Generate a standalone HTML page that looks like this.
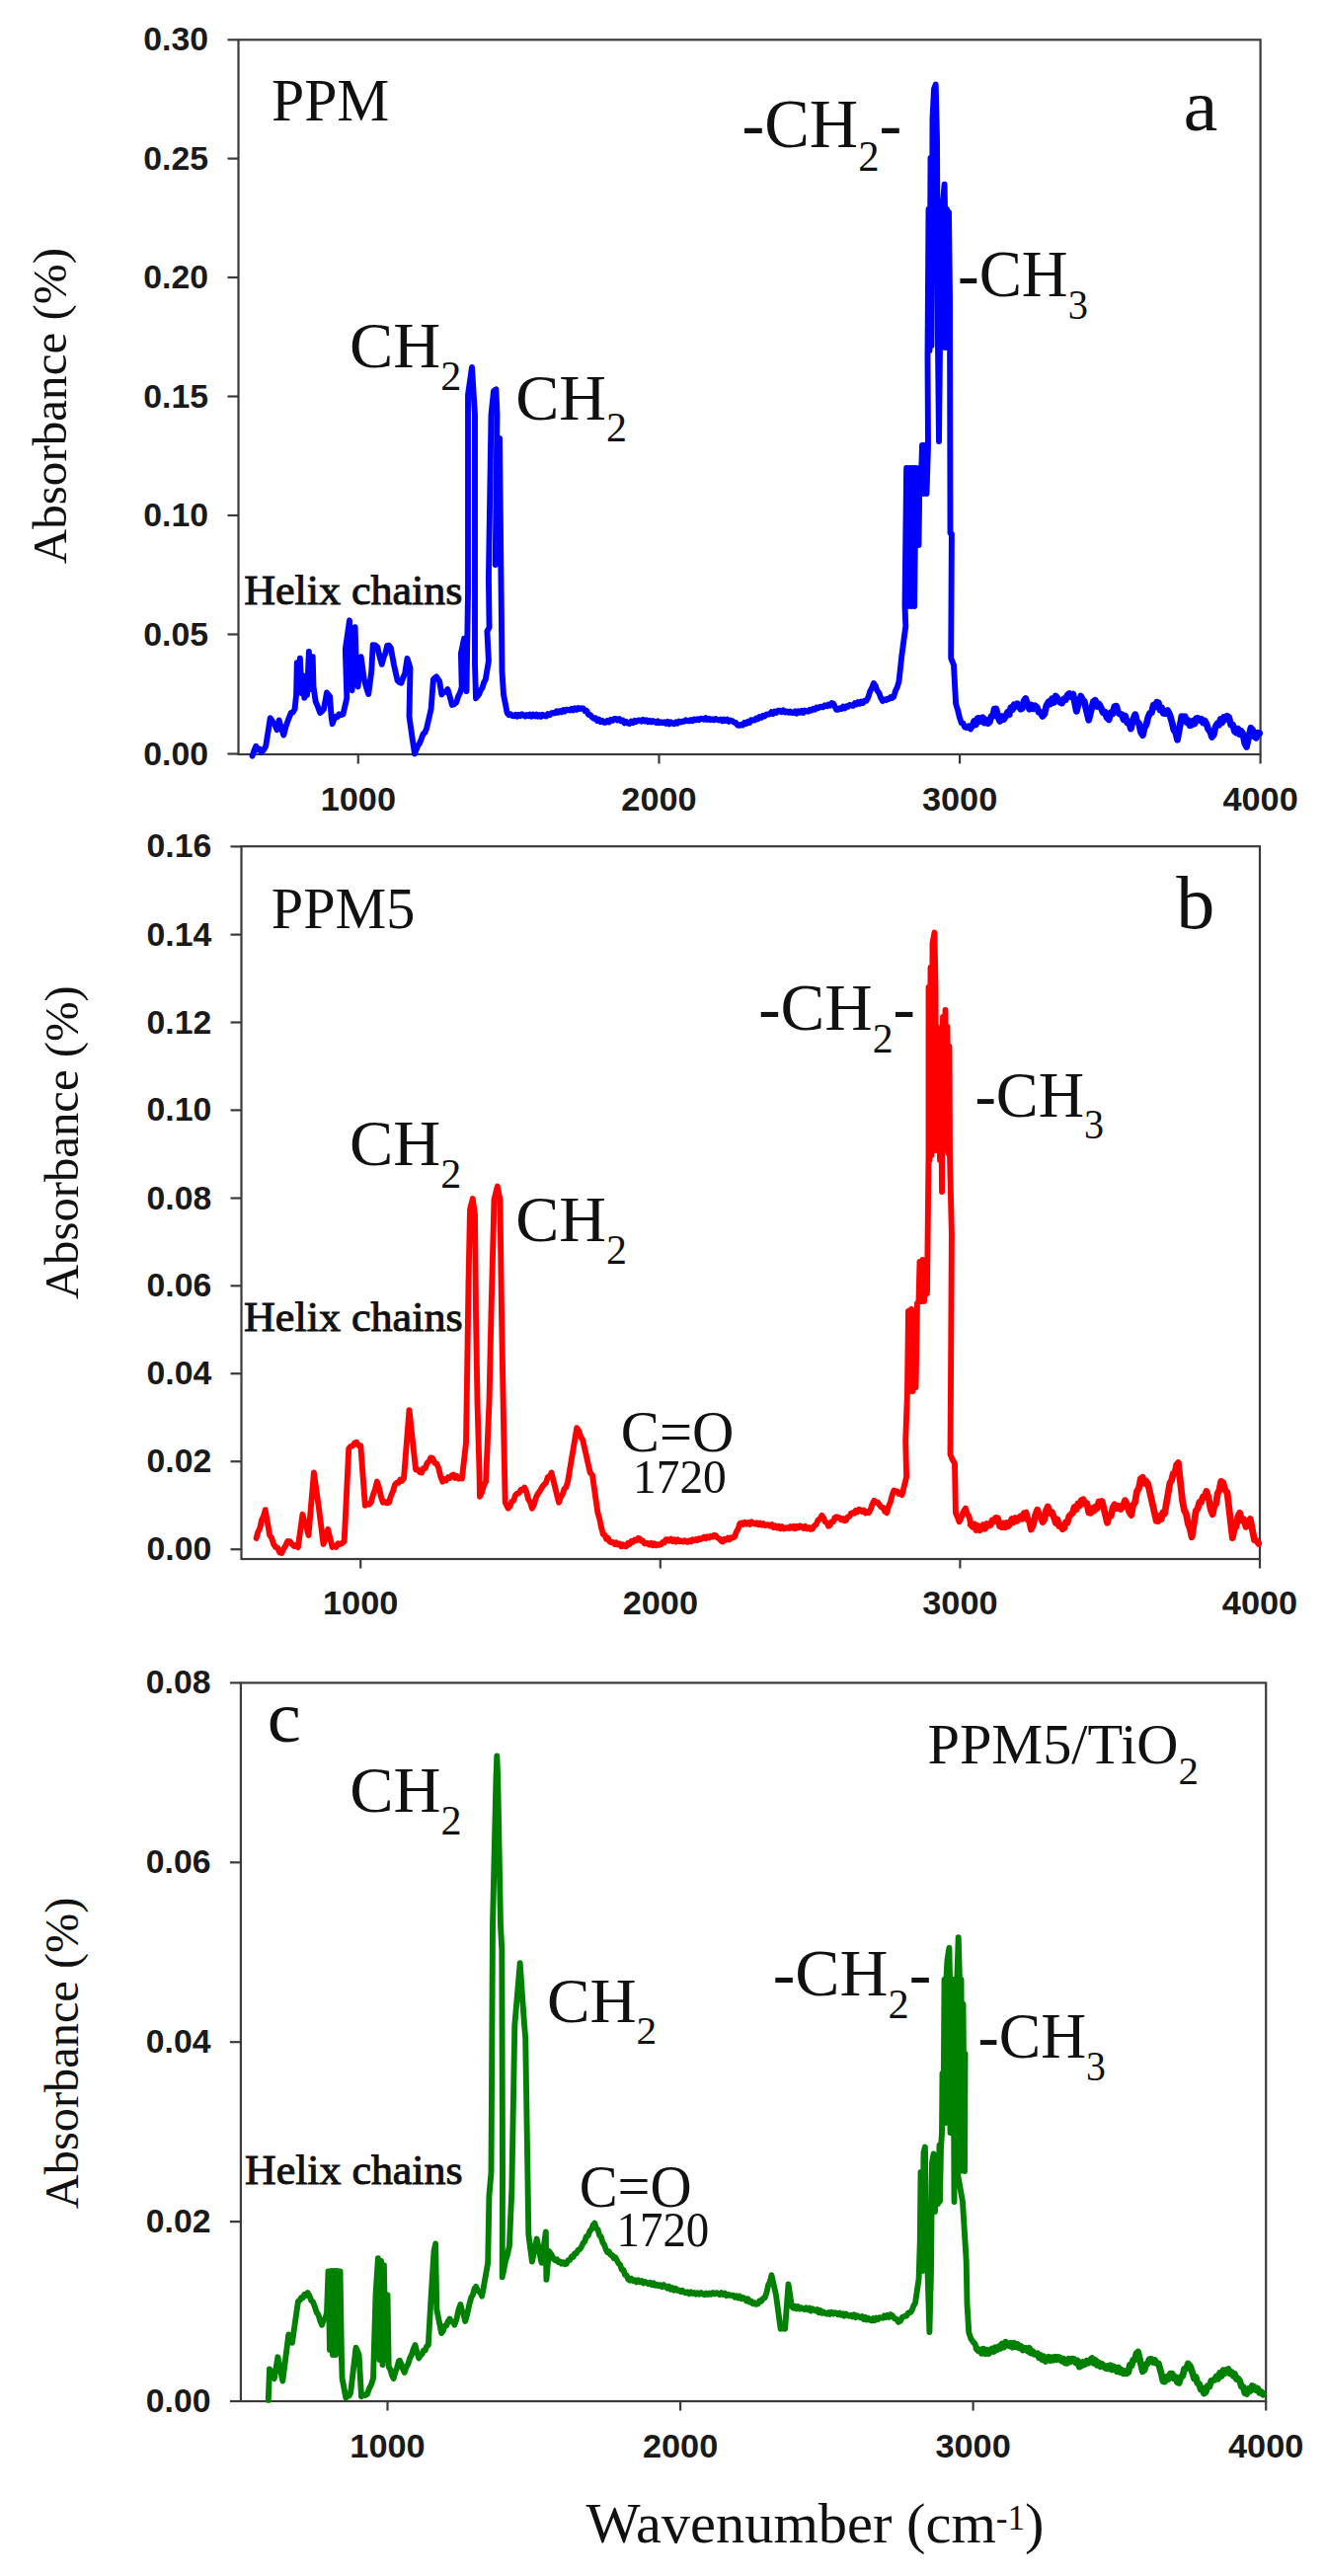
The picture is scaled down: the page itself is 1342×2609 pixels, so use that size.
<!DOCTYPE html>
<html><head><meta charset="utf-8"><title>FTIR spectra</title>
<style>html,body{margin:0;padding:0;background:#fff;}svg{display:block;}</style>
</head><body>
<svg width="1342" height="2609" viewBox="0 0 1342 2609">
<rect x="0" y="0" width="1342" height="2609" fill="#fff"/>
<rect x="241.5" y="40.3" width="1035.1" height="723.7" fill="none" stroke="#3a3a3a" stroke-width="2.2"/>
<line x1="230.5" y1="40.3" x2="241.5" y2="40.3" stroke="#3a3a3a" stroke-width="2.2"/>
<text transform="translate(211.0,51.3) scale(1.04,1.05)" font-family='"Liberation Sans", sans-serif' font-weight="bold" font-size="32.5" text-anchor="end" fill="#1a1a1a">0.30</text>
<line x1="230.5" y1="160.6" x2="241.5" y2="160.6" stroke="#3a3a3a" stroke-width="2.2"/>
<text transform="translate(211.0,171.6) scale(1.04,1.05)" font-family='"Liberation Sans", sans-serif' font-weight="bold" font-size="32.5" text-anchor="end" fill="#1a1a1a">0.25</text>
<line x1="230.5" y1="281.0" x2="241.5" y2="281.0" stroke="#3a3a3a" stroke-width="2.2"/>
<text transform="translate(211.0,292.0) scale(1.04,1.05)" font-family='"Liberation Sans", sans-serif' font-weight="bold" font-size="32.5" text-anchor="end" fill="#1a1a1a">0.20</text>
<line x1="230.5" y1="401.5" x2="241.5" y2="401.5" stroke="#3a3a3a" stroke-width="2.2"/>
<text transform="translate(211.0,412.5) scale(1.04,1.05)" font-family='"Liberation Sans", sans-serif' font-weight="bold" font-size="32.5" text-anchor="end" fill="#1a1a1a">0.15</text>
<line x1="230.5" y1="522.0" x2="241.5" y2="522.0" stroke="#3a3a3a" stroke-width="2.2"/>
<text transform="translate(211.0,533.0) scale(1.04,1.05)" font-family='"Liberation Sans", sans-serif' font-weight="bold" font-size="32.5" text-anchor="end" fill="#1a1a1a">0.10</text>
<line x1="230.5" y1="642.5" x2="241.5" y2="642.5" stroke="#3a3a3a" stroke-width="2.2"/>
<text transform="translate(211.0,653.5) scale(1.04,1.05)" font-family='"Liberation Sans", sans-serif' font-weight="bold" font-size="32.5" text-anchor="end" fill="#1a1a1a">0.05</text>
<line x1="230.5" y1="763.5" x2="241.5" y2="763.5" stroke="#3a3a3a" stroke-width="2.2"/>
<text transform="translate(211.0,774.5) scale(1.04,1.05)" font-family='"Liberation Sans", sans-serif' font-weight="bold" font-size="32.5" text-anchor="end" fill="#1a1a1a">0.00</text>
<line x1="362.8" y1="764.0" x2="362.8" y2="773.5" stroke="#3a3a3a" stroke-width="2.2"/>
<text transform="translate(362.8,821.3) scale(1.04,1)" font-family='"Liberation Sans", sans-serif' font-weight="bold" font-size="33" text-anchor="middle" fill="#1a1a1a">1000</text>
<line x1="667.5" y1="764.0" x2="667.5" y2="773.5" stroke="#3a3a3a" stroke-width="2.2"/>
<text transform="translate(667.5,821.3) scale(1.04,1)" font-family='"Liberation Sans", sans-serif' font-weight="bold" font-size="33" text-anchor="middle" fill="#1a1a1a">2000</text>
<line x1="972.1" y1="764.0" x2="972.1" y2="773.5" stroke="#3a3a3a" stroke-width="2.2"/>
<text transform="translate(972.1,821.3) scale(1.04,1)" font-family='"Liberation Sans", sans-serif' font-weight="bold" font-size="33" text-anchor="middle" fill="#1a1a1a">3000</text>
<line x1="1276.6" y1="764.0" x2="1276.6" y2="773.5" stroke="#3a3a3a" stroke-width="2.2"/>
<text transform="translate(1276.6,821.3) scale(1.04,1)" font-family='"Liberation Sans", sans-serif' font-weight="bold" font-size="33" text-anchor="middle" fill="#1a1a1a">4000</text>
<rect x="244.5" y="857.2" width="1031.5" height="721.8" fill="none" stroke="#3a3a3a" stroke-width="2.2"/>
<line x1="233.5" y1="857.4" x2="244.5" y2="857.4" stroke="#3a3a3a" stroke-width="2.2"/>
<text transform="translate(214.3,868.4) scale(1.04,1.05)" font-family='"Liberation Sans", sans-serif' font-weight="bold" font-size="32.5" text-anchor="end" fill="#1a1a1a">0.16</text>
<line x1="233.5" y1="946.6" x2="244.5" y2="946.6" stroke="#3a3a3a" stroke-width="2.2"/>
<text transform="translate(214.3,957.6) scale(1.04,1.05)" font-family='"Liberation Sans", sans-serif' font-weight="bold" font-size="32.5" text-anchor="end" fill="#1a1a1a">0.14</text>
<line x1="233.5" y1="1035.5" x2="244.5" y2="1035.5" stroke="#3a3a3a" stroke-width="2.2"/>
<text transform="translate(214.3,1046.5) scale(1.04,1.05)" font-family='"Liberation Sans", sans-serif' font-weight="bold" font-size="32.5" text-anchor="end" fill="#1a1a1a">0.12</text>
<line x1="233.5" y1="1124.4" x2="244.5" y2="1124.4" stroke="#3a3a3a" stroke-width="2.2"/>
<text transform="translate(214.3,1135.4) scale(1.04,1.05)" font-family='"Liberation Sans", sans-serif' font-weight="bold" font-size="32.5" text-anchor="end" fill="#1a1a1a">0.10</text>
<line x1="233.5" y1="1213.5" x2="244.5" y2="1213.5" stroke="#3a3a3a" stroke-width="2.2"/>
<text transform="translate(214.3,1224.5) scale(1.04,1.05)" font-family='"Liberation Sans", sans-serif' font-weight="bold" font-size="32.5" text-anchor="end" fill="#1a1a1a">0.08</text>
<line x1="233.5" y1="1302.3" x2="244.5" y2="1302.3" stroke="#3a3a3a" stroke-width="2.2"/>
<text transform="translate(214.3,1313.3) scale(1.04,1.05)" font-family='"Liberation Sans", sans-serif' font-weight="bold" font-size="32.5" text-anchor="end" fill="#1a1a1a">0.06</text>
<line x1="233.5" y1="1391.2" x2="244.5" y2="1391.2" stroke="#3a3a3a" stroke-width="2.2"/>
<text transform="translate(214.3,1402.2) scale(1.04,1.05)" font-family='"Liberation Sans", sans-serif' font-weight="bold" font-size="32.5" text-anchor="end" fill="#1a1a1a">0.04</text>
<line x1="233.5" y1="1480.2" x2="244.5" y2="1480.2" stroke="#3a3a3a" stroke-width="2.2"/>
<text transform="translate(214.3,1491.2) scale(1.04,1.05)" font-family='"Liberation Sans", sans-serif' font-weight="bold" font-size="32.5" text-anchor="end" fill="#1a1a1a">0.02</text>
<line x1="233.5" y1="1569.2" x2="244.5" y2="1569.2" stroke="#3a3a3a" stroke-width="2.2"/>
<text transform="translate(214.3,1580.2) scale(1.04,1.05)" font-family='"Liberation Sans", sans-serif' font-weight="bold" font-size="32.5" text-anchor="end" fill="#1a1a1a">0.00</text>
<line x1="365.2" y1="1579.0" x2="365.2" y2="1588.5" stroke="#3a3a3a" stroke-width="2.2"/>
<text transform="translate(365.2,1635.2) scale(1.04,1)" font-family='"Liberation Sans", sans-serif' font-weight="bold" font-size="33" text-anchor="middle" fill="#1a1a1a">1000</text>
<line x1="668.8" y1="1579.0" x2="668.8" y2="1588.5" stroke="#3a3a3a" stroke-width="2.2"/>
<text transform="translate(668.8,1635.2) scale(1.04,1)" font-family='"Liberation Sans", sans-serif' font-weight="bold" font-size="33" text-anchor="middle" fill="#1a1a1a">2000</text>
<line x1="972.4" y1="1579.0" x2="972.4" y2="1588.5" stroke="#3a3a3a" stroke-width="2.2"/>
<text transform="translate(972.4,1635.2) scale(1.04,1)" font-family='"Liberation Sans", sans-serif' font-weight="bold" font-size="33" text-anchor="middle" fill="#1a1a1a">3000</text>
<line x1="1276.0" y1="1579.0" x2="1276.0" y2="1588.5" stroke="#3a3a3a" stroke-width="2.2"/>
<text transform="translate(1276.0,1635.2) scale(1.04,1)" font-family='"Liberation Sans", sans-serif' font-weight="bold" font-size="33" text-anchor="middle" fill="#1a1a1a">4000</text>
<rect x="243.9" y="1704.4" width="1038.3" height="727.5999999999999" fill="none" stroke="#3a3a3a" stroke-width="2.2"/>
<line x1="232.9" y1="1704.4" x2="243.9" y2="1704.4" stroke="#3a3a3a" stroke-width="2.2"/>
<text transform="translate(213.5,1715.4) scale(1.04,1.05)" font-family='"Liberation Sans", sans-serif' font-weight="bold" font-size="32.5" text-anchor="end" fill="#1a1a1a">0.08</text>
<line x1="232.9" y1="1886.3" x2="243.9" y2="1886.3" stroke="#3a3a3a" stroke-width="2.2"/>
<text transform="translate(213.5,1897.3) scale(1.04,1.05)" font-family='"Liberation Sans", sans-serif' font-weight="bold" font-size="32.5" text-anchor="end" fill="#1a1a1a">0.06</text>
<line x1="232.9" y1="2068.2" x2="243.9" y2="2068.2" stroke="#3a3a3a" stroke-width="2.2"/>
<text transform="translate(213.5,2079.2) scale(1.04,1.05)" font-family='"Liberation Sans", sans-serif' font-weight="bold" font-size="32.5" text-anchor="end" fill="#1a1a1a">0.04</text>
<line x1="232.9" y1="2250.1" x2="243.9" y2="2250.1" stroke="#3a3a3a" stroke-width="2.2"/>
<text transform="translate(213.5,2261.1) scale(1.04,1.05)" font-family='"Liberation Sans", sans-serif' font-weight="bold" font-size="32.5" text-anchor="end" fill="#1a1a1a">0.02</text>
<line x1="232.9" y1="2432.0" x2="243.9" y2="2432.0" stroke="#3a3a3a" stroke-width="2.2"/>
<text transform="translate(213.5,2443.0) scale(1.04,1.05)" font-family='"Liberation Sans", sans-serif' font-weight="bold" font-size="32.5" text-anchor="end" fill="#1a1a1a">0.00</text>
<line x1="392.5" y1="2432.0" x2="392.5" y2="2441.5" stroke="#3a3a3a" stroke-width="2.2"/>
<text transform="translate(392.5,2488.6) scale(1.04,1)" font-family='"Liberation Sans", sans-serif' font-weight="bold" font-size="33" text-anchor="middle" fill="#1a1a1a">1000</text>
<line x1="689.1" y1="2432.0" x2="689.1" y2="2441.5" stroke="#3a3a3a" stroke-width="2.2"/>
<text transform="translate(689.1,2488.6) scale(1.04,1)" font-family='"Liberation Sans", sans-serif' font-weight="bold" font-size="33" text-anchor="middle" fill="#1a1a1a">2000</text>
<line x1="985.6" y1="2432.0" x2="985.6" y2="2441.5" stroke="#3a3a3a" stroke-width="2.2"/>
<text transform="translate(985.6,2488.6) scale(1.04,1)" font-family='"Liberation Sans", sans-serif' font-weight="bold" font-size="33" text-anchor="middle" fill="#1a1a1a">3000</text>
<line x1="1282.2" y1="2432.0" x2="1282.2" y2="2441.5" stroke="#3a3a3a" stroke-width="2.2"/>
<text transform="translate(1282.2,2488.6) scale(1.04,1)" font-family='"Liberation Sans", sans-serif' font-weight="bold" font-size="33" text-anchor="middle" fill="#1a1a1a">4000</text>
<polyline points="255.6,765.7 257.4,760.1 259.3,755.8 261.1,759.3 262.8,758.5 264.6,761.9 266.9,759.6 269.2,755.8 272.2,737.0 273.7,727.2 276.7,731.7 278.6,734.4 280.5,739.2 282.7,729.4 285.0,737.9 287.3,744.5 289.6,735.7 291.8,729.4 294.8,721.9 296.7,721.4 298.6,718.1 300.1,703.0 300.8,671.3 302.2,700.0 303.9,666.8 305.5,702.0 306.9,684.2 308.3,706.8 309.5,685.0 311.0,704.0 312.9,660.0 314.5,698.0 316.7,665.3 317.5,695.5 319.7,710.6 321.9,715.7 324.2,721.9 326.1,720.5 328.0,718.1 331.0,701.5 334.1,705.3 335.6,725.7 336.7,733.2 338.4,728.0 340.1,725.7 341.7,726.2 343.4,723.4 345.0,724.2 347.5,723.4 351.3,706.8 349.8,657.7 354.0,628.3 355.5,690.0 356.6,699.2 358.0,660.0 359.6,635.1 361.0,680.0 362.6,695.5 365.7,665.3 368.7,687.9 370.9,695.9 373.2,703.0 376.2,680.4 377.7,653.2 380.0,653.4 382.3,655.5 384.6,665.4 386.8,672.8 388.6,665.8 390.3,661.8 392.1,654.0 394.0,653.6 395.8,656.2 398.9,672.8 402.6,689.4 404.5,691.1 406.4,691.7 408.3,686.3 410.2,681.9 412.5,666.8 415.5,676.6 414.5,725.7 417.7,748.3 420.0,763.4 423.0,755.8 424.9,753.1 426.8,748.3 428.6,743.2 430.3,742.1 432.1,737.7 436.6,718.1 438.9,687.9 442.0,685.3 445.1,689.8 447.3,703.4 449.3,700.9 451.4,700.8 453.4,698.1 455.6,705.5 457.9,714.0 460.1,713.2 462.4,711.0 464.2,705.0 465.9,701.9 467.7,695.8 466.9,661.9 470.0,646.8 472.5,700.0 474.0,600.0 474.0,400.0 478.0,371.9 481.0,420.0 481.0,673.0 482.0,707.2 485.1,703.4 486.8,698.9 488.5,696.6 490.1,691.3 491.8,688.3 494.9,669.4 493.4,639.2 495.6,635.5 494.9,586.4 497.5,420.0 500.0,396.0 502.4,394.3 503.5,420.0 501.7,572.0 504.0,500.0 506.0,444.0 507.3,569.8 508.5,680.0 510.0,703.4 513.7,722.3 515.5,724.2 517.2,723.3 519.0,725.0 520.6,725.3 522.2,723.8 523.8,725.6 525.4,723.8 527.0,725.1 528.6,723.3 530.2,724.4 531.8,725.5 533.4,724.0 535.1,725.2 536.7,723.6 538.3,725.6 539.9,723.5 541.6,725.4 543.2,723.7 544.8,725.7 546.4,724.2 548.1,725.8 549.7,723.9 551.3,725.0 553.1,725.5 554.9,723.0 556.8,724.1 558.6,722.2 560.4,722.0 562.1,722.2 563.8,720.3 565.4,721.7 567.1,720.1 568.8,721.1 570.5,719.0 572.1,720.5 573.8,718.6 575.5,718.9 577.2,719.5 578.9,717.8 580.5,719.4 582.2,717.4 583.9,718.8 585.6,717.1 587.2,718.1 588.9,717.2 590.6,717.4 592.4,720.2 594.2,719.8 596.0,723.7 597.8,723.9 599.6,726.4 601.3,727.7 603.1,727.2 604.8,729.9 606.5,728.5 608.2,731.1 610.0,729.9 611.7,731.8 613.4,731.8 615.2,729.9 616.9,731.3 618.6,728.8 620.3,729.8 622.1,728.0 623.8,728.0 625.5,729.5 627.2,728.1 628.9,730.3 630.7,729.6 632.4,732.3 634.1,730.8 635.8,732.5 637.5,733.0 639.3,730.6 641.0,732.0 642.7,729.9 644.4,731.0 646.2,729.4 647.9,729.4 649.6,730.7 651.3,728.9 652.9,730.5 654.6,729.3 656.3,731.1 658.0,729.8 659.6,731.3 661.3,730.0 663.0,731.0 664.6,732.0 666.3,730.4 667.9,732.2 669.6,731.2 671.2,732.2 672.9,731.3 674.5,732.8 676.2,731.0 677.8,733.3 679.5,731.3 681.1,732.5 682.8,733.3 684.5,731.4 686.1,732.7 687.8,730.5 689.5,731.5 691.2,730.5 692.8,730.9 694.5,729.3 696.2,730.0 697.9,730.3 699.6,729.1 701.2,730.2 702.9,728.5 704.6,729.3 706.3,728.2 707.9,729.2 709.6,727.7 711.3,728.0 713.0,728.7 714.7,727.2 716.3,729.0 718.0,727.7 719.7,729.2 721.4,728.2 723.0,729.3 724.7,728.0 726.4,728.8 728.1,729.5 729.8,728.6 731.4,730.3 733.1,728.5 734.8,730.0 736.5,728.7 738.1,730.8 739.8,729.5 741.5,730.0 743.4,731.6 745.2,732.0 747.1,734.6 749.0,734.9 750.7,733.7 752.4,734.5 754.1,731.9 755.8,733.0 757.5,730.9 759.2,732.0 760.9,729.1 762.6,729.4 764.3,729.5 766.0,727.5 767.6,728.3 769.3,726.0 771.0,726.9 772.7,724.8 774.3,725.6 776.0,723.7 777.7,723.4 779.4,723.5 781.2,721.2 782.9,723.0 784.6,720.7 786.3,721.9 788.1,719.7 789.8,719.8 791.5,721.2 793.3,719.4 795.0,721.4 796.7,720.4 798.4,721.7 800.2,720.5 801.9,721.9 803.6,722.1 805.3,720.5 806.9,722.6 808.6,720.4 810.3,721.6 812.0,719.8 813.6,721.9 815.3,719.6 817.0,720.4 818.7,720.7 820.3,718.7 822.0,719.5 823.7,717.8 825.3,718.8 827.0,716.6 828.7,717.3 830.3,715.9 832.0,715.8 833.7,716.3 835.5,714.3 837.2,715.3 839.0,713.5 840.7,714.7 842.5,712.1 844.2,712.8 847.2,718.9 848.9,718.8 850.6,717.3 852.2,718.0 853.9,715.7 855.6,717.4 857.3,715.2 858.9,715.9 860.6,713.9 862.3,714.3 864.0,714.9 865.7,712.2 867.3,713.4 869.0,711.2 870.7,712.7 872.4,710.5 874.0,712.0 875.7,709.7 877.4,709.8 879.3,706.3 881.1,700.5 883.0,696.9 884.9,692.0 886.7,694.6 888.5,699.6 890.4,701.9 892.2,707.0 894.0,709.9 895.6,708.4 897.2,709.3 898.8,707.6 900.4,708.0 902.0,706.0 903.6,707.0 905.2,705.7 907.0,699.5 908.7,696.2 910.5,690.0 913.4,663.3 917.3,634.2 916.5,614.0 918.1,474.0 919.7,614.0 921.3,474.0 922.9,614.0 924.5,474.0 926.1,614.0 927.7,474.0 930.5,552.0 931.5,474.0 932.5,500.0 934.0,451.0 935.5,500.0 937.0,451.0 938.5,500.0 940.0,452.0 939.5,360.0 940.5,212.0 941.5,355.0 942.5,160.0 943.5,350.0 944.5,120.0 946.0,90.0 947.7,85.6 949.0,140.0 950.0,352.0 951.0,447.0 952.0,350.0 953.0,215.0 954.0,352.0 955.0,205.0 956.6,186.8 957.5,240.0 958.0,352.0 959.0,212.0 960.0,352.0 961.0,215.0 962.0,300.0 962.5,540.0 963.9,540.7 963.2,666.6 966.0,673.5 968.1,712.7 970.0,718.8 971.8,726.4 973.7,732.2 975.5,732.7 977.2,736.4 979.0,737.0 981.0,735.3 983.0,738.4 985.0,735.0" fill="none" stroke="#0000ff" stroke-width="5.9" stroke-linejoin="round" stroke-linecap="round"/><polyline points="985.0,735.0 986.7,730.5 988.4,733.8 990.1,727.6 991.8,727.3 993.6,730.5 995.4,726.9 997.2,732.1 999.0,729.4 1000.8,732.5 1002.4,731.0 1004.0,725.6 1005.6,725.2 1007.2,718.0 1008.8,717.8 1010.8,726.2 1012.7,730.5 1014.8,725.6 1016.9,728.3 1019.0,724.4 1020.6,721.3 1022.2,723.6 1023.8,716.8 1025.5,718.7 1027.1,713.7 1028.7,715.5 1030.3,712.7 1032.0,714.3 1033.7,718.1 1035.4,717.3 1037.1,710.0 1038.8,707.5 1040.8,714.2 1042.7,718.2 1044.6,714.1 1046.5,717.7 1048.4,714.8 1050.2,716.3 1052.1,721.4 1054.0,721.4 1055.8,725.5 1057.9,723.1 1059.9,714.6 1062.0,710.9 1063.8,712.9 1065.6,707.7 1067.4,711.5 1069.2,705.0 1071.0,707.1 1073.3,711.1 1075.6,712.1 1077.5,708.0 1079.3,708.6 1081.2,704.0 1083.1,702.6 1085.0,705.7 1086.9,703.2 1090.3,720.3 1092.5,711.8 1094.8,705.1 1096.5,708.7 1098.2,710.4 1102.7,729.3 1107.3,710.8 1109.3,709.3 1111.2,715.4 1113.2,713.2 1115.2,716.9 1117.2,721.8 1119.2,721.3 1121.1,726.9 1123.1,728.8 1125.0,721.6 1126.9,722.9 1128.8,715.6 1130.7,715.2 1132.6,721.9 1134.5,723.3 1136.2,723.6 1138.0,728.7 1139.7,725.1 1141.5,731.7 1143.2,731.3 1145.4,738.1 1147.6,728.6 1149.8,723.7 1151.7,731.2 1153.6,732.7 1155.5,741.4 1157.4,744.6 1159.2,737.0 1161.1,733.8 1162.9,726.3 1164.7,722.2 1166.4,721.8 1168.2,714.3 1169.9,716.1 1171.7,711.3 1173.3,711.8 1175.0,719.1 1176.6,716.8 1178.2,722.4 1180.4,722.7 1182.6,719.5 1184.8,723.9 1187.0,731.5 1188.8,739.0 1190.7,741.8 1192.5,749.3 1196.8,725.6 1198.5,729.7 1200.1,725.7 1201.8,731.4 1203.4,729.7 1205.0,734.8 1206.7,734.2 1208.3,730.3 1210.0,732.9 1211.6,727.6 1213.2,727.3 1215.0,729.4 1216.7,728.3 1218.5,731.9 1220.2,730.0 1222.0,733.2 1223.8,738.7 1225.7,741.0 1227.5,746.4 1229.3,744.2 1231.1,735.9 1232.9,732.9 1234.6,734.2 1236.2,728.4 1237.8,731.8 1239.5,726.6 1241.2,728.5 1242.8,725.3 1244.7,726.6 1246.7,734.1 1248.6,734.1 1250.5,740.8 1252.1,742.0 1253.8,738.1 1255.4,743.4 1257.0,740.3 1258.8,743.1 1260.7,752.6 1262.5,756.4 1266.9,737.3 1268.7,739.5 1270.5,745.9 1272.3,747.2 1273.9,742.2 1275.6,742.8" fill="none" stroke="#0000ff" stroke-width="6.8" stroke-linejoin="round" stroke-linecap="round"/>
<polyline points="259.6,1557.9 261.4,1551.5 263.2,1547.8 265.1,1539.3 266.9,1535.7 268.7,1529.2 273.2,1554.9 275.2,1557.9 277.2,1564.0 279.2,1567.0 281.2,1567.8 283.3,1572.4 285.3,1573.0 287.3,1568.4 289.3,1565.5 291.3,1561.0 293.6,1561.1 295.8,1564.0 297.8,1566.0 299.9,1564.7 301.9,1567.0 306.4,1533.8 308.4,1541.3 310.5,1546.9 312.5,1554.9 317.9,1491.5 323.0,1527.7 327.5,1564.0 329.8,1557.7 332.1,1548.9 336.6,1567.0 338.5,1565.5 340.4,1567.0 342.3,1563.3 344.2,1564.0 346.4,1563.0 348.7,1561.0 353.2,1467.4 355.2,1464.9 357.2,1464.4 359.2,1461.3 361.2,1460.8 363.3,1464.2 365.3,1464.3 369.8,1524.7 371.8,1523.0 373.8,1523.7 375.8,1521.7 377.8,1514.2 379.9,1508.4 381.9,1500.6 383.9,1506.7 385.9,1515.7 387.9,1521.7 389.9,1521.0 392.0,1522.4 394.0,1521.7 396.0,1514.9 398.0,1510.6 400.0,1503.6 401.8,1501.6 403.6,1501.7 405.4,1498.5 407.2,1499.8 409.0,1497.5 414.5,1428.1 421.1,1488.5 423.1,1488.3 425.2,1491.2 427.2,1491.5 429.0,1486.9 430.8,1486.9 432.6,1481.8 434.4,1480.3 436.2,1476.4 438.2,1477.1 440.3,1481.7 442.3,1482.5 444.3,1487.0 446.3,1495.5 448.3,1500.6 450.1,1498.0 451.9,1499.4 453.8,1496.1 455.6,1496.9 457.4,1494.5 459.1,1493.5 460.9,1496.9 462.6,1495.0 464.4,1497.6 466.1,1496.5 467.9,1497.5 472.0,1461.3 473.0,1400.0 474.5,1300.0 476.0,1225.0 478.8,1214.1 481.0,1230.0 482.0,1330.0 483.5,1420.0 485.5,1490.0 486.0,1515.7 488.0,1511.4 490.1,1504.3 492.1,1500.6 495.5,1420.0 497.5,1330.0 500.5,1215.0 503.8,1201.6 506.5,1215.0 508.0,1330.0 510.0,1440.0 511.7,1521.7 514.7,1527.7 516.5,1525.6 518.3,1521.0 520.2,1519.7 522.0,1514.4 523.8,1512.6 525.7,1512.3 527.5,1508.7 529.4,1509.1 531.3,1506.6 533.2,1510.8 535.1,1518.5 537.0,1521.4 538.9,1527.7 540.9,1523.6 542.9,1516.6 544.9,1512.6 546.9,1510.1 549.0,1506.1 551.0,1503.6 552.9,1501.8 554.8,1496.0 556.6,1495.7 558.5,1491.5 566.0,1521.7 567.8,1516.6 569.6,1513.9 571.5,1508.0 573.3,1506.4 575.1,1500.6 584.2,1446.2 586.2,1448.9 588.2,1455.4 590.2,1458.3 597.7,1491.5 600.0,1494.1 605.4,1532.2 607.2,1538.0 609.1,1547.4 610.9,1553.9 612.5,1554.5 614.1,1558.7 615.8,1557.6 617.4,1561.4 619.0,1562.0 620.7,1561.9 622.4,1563.9 624.1,1562.3 625.8,1564.4 627.5,1563.5 629.2,1566.2 630.9,1564.4 632.6,1566.1 634.3,1566.2 636.0,1562.9 637.7,1563.9 639.4,1561.1 641.1,1561.8 642.8,1559.6 644.5,1560.2 646.2,1558.0 647.8,1558.2 649.4,1560.7 651.1,1560.4 652.7,1563.2 654.3,1563.4 656.0,1562.9 657.7,1564.5 659.4,1563.0 661.1,1565.1 662.8,1563.3 664.5,1565.3 666.2,1564.2 667.9,1564.8 669.5,1564.3 671.2,1562.0 672.8,1562.4 674.5,1559.2 676.1,1559.3 677.8,1560.6 679.6,1558.6 681.3,1561.0 683.0,1559.5 684.7,1561.5 686.5,1559.5 688.2,1561.2 689.9,1560.5 691.6,1561.5 693.4,1560.2 695.1,1561.5 696.7,1561.8 698.4,1560.3 700.0,1561.4 701.6,1559.4 703.2,1560.2 704.9,1558.9 706.5,1559.9 708.1,1558.2 709.8,1559.0 711.4,1558.0 713.1,1556.6 714.8,1558.1 716.5,1556.3 718.2,1557.4 719.9,1555.8 721.6,1556.6 723.3,1554.8 725.0,1555.2 726.8,1557.6 728.6,1558.4 730.4,1560.7 732.1,1561.4 733.8,1558.8 735.5,1559.7 737.2,1557.7 738.9,1559.3 740.6,1557.2 742.3,1557.5 744.0,1556.6 745.8,1551.5 747.6,1548.6 749.4,1543.0 751.1,1542.4 752.8,1543.9 754.5,1541.8 756.2,1543.6 757.9,1542.1 759.6,1543.9 761.3,1541.4 763.0,1542.5 764.7,1543.6 766.4,1542.4 768.1,1544.2 769.8,1542.7 771.5,1544.6 773.2,1543.2 774.9,1545.1 776.6,1544.4 778.3,1544.3 780.1,1545.7 781.8,1544.1 783.5,1546.9 785.2,1545.3 787.0,1547.5 788.7,1546.0 790.4,1548.2 792.1,1546.2 793.9,1548.4 795.6,1547.9 797.2,1547.1 798.9,1548.0 800.5,1546.2 802.1,1547.7 803.8,1546.0 805.4,1548.2 807.0,1545.9 808.6,1547.2 810.3,1545.3 811.9,1546.3 813.7,1547.9 815.5,1546.0 817.3,1548.3 819.2,1547.0 821.0,1548.8 822.8,1548.5 824.7,1545.2 826.6,1544.1 828.5,1539.6 830.4,1538.2 832.3,1534.9 834.0,1537.1 835.7,1541.3 837.4,1542.3 839.1,1545.7 840.7,1544.6 842.3,1541.2 844.0,1541.2 845.6,1536.9 847.2,1536.2 848.8,1537.4 850.5,1537.3 852.1,1539.3 853.8,1538.2 855.4,1540.3 857.0,1539.8 858.6,1536.4 860.3,1536.0 861.9,1532.8 863.5,1532.2 865.1,1532.8 866.8,1529.8 868.4,1531.2 870.1,1528.8 871.7,1529.4 873.3,1531.0 874.9,1529.7 876.6,1532.4 878.2,1531.0 879.8,1532.2 881.6,1529.2 883.5,1523.5 885.3,1519.9 887.1,1521.8 888.9,1521.4 890.7,1524.0 892.6,1526.6 894.5,1527.0 896.3,1531.0 898.2,1532.1 900.0,1525.6 901.8,1521.4 903.6,1514.6 905.4,1509.5 907.0,1510.9 908.7,1510.4 910.3,1512.9 912.0,1512.1 913.6,1514.0 918.1,1495.9 917.2,1459.6 919.0,1409.0 920.0,1328.0 921.5,1409.0 923.0,1326.0 924.5,1409.0 926.0,1328.0 927.5,1405.0 929.0,1320.0 930.5,1318.0 931.5,1278.0 933.0,1318.0 934.5,1276.0 936.0,1318.0 937.5,1280.0 939.0,1310.0 940.5,1170.0 940.5,1000.0 941.5,1175.0 942.5,980.0 943.5,1170.0 944.5,955.0 946.5,944.6 947.5,1000.0 948.0,1165.0 949.0,1040.0 950.0,1160.0 951.0,1045.0 952.0,1175.0 952.9,1057.8 954.0,1207.0 955.0,1030.0 956.0,1160.0 957.5,1023.0 958.5,1165.0 959.5,1040.0 960.5,1168.0 961.5,1060.0 962.0,1170.0 963.9,1250.0 963.0,1400.0 962.5,1473.0 964.8,1478.6 967.0,1482.3 967.9,1532.1 969.7,1536.3 971.5,1541.2 973.6,1537.4 975.8,1531.0 977.9,1527.6 979.7,1533.2 981.5,1535.8 983.3,1544.2" fill="none" stroke="#ff0000" stroke-width="5.9" stroke-linejoin="round" stroke-linecap="round"/><polyline points="983.3,1544.2 985.1,1546.1 986.9,1543.9 988.7,1549.4 990.6,1545.6 992.4,1549.7 994.2,1547.9 996.0,1544.6 997.8,1548.1 999.6,1543.6 1001.4,1545.0 1003.2,1544.4 1005.0,1540.1 1006.7,1540.7 1008.5,1537.4 1010.6,1537.8 1012.7,1545.8 1014.8,1546.8 1016.5,1543.0 1018.2,1546.7 1019.8,1542.4 1021.5,1545.4 1023.2,1541.9 1024.9,1538.6 1026.6,1541.5 1028.3,1537.6 1030.0,1540.3 1031.7,1538.5 1033.5,1535.8 1035.4,1538.1 1037.2,1532.8 1039.1,1532.1 1040.9,1539.2 1042.6,1540.4 1044.4,1549.0 1046.5,1544.2 1048.6,1534.7 1050.7,1529.2 1052.5,1534.6 1054.2,1536.0 1056.0,1541.5 1057.8,1538.8 1059.5,1530.0 1061.3,1526.0 1063.4,1532.5 1065.5,1531.8 1067.6,1537.2 1069.3,1542.4 1071.0,1539.0 1072.7,1545.6 1074.4,1544.9 1076.1,1548.6 1077.8,1547.6 1079.5,1541.6 1081.1,1542.0 1082.8,1535.8 1084.5,1533.9 1086.3,1532.6 1088.1,1526.6 1089.9,1528.9 1091.8,1523.1 1093.6,1524.9 1095.4,1519.4 1097.2,1518.8 1099.0,1523.2 1100.9,1522.8 1102.8,1532.0 1104.6,1532.4 1106.3,1527.8 1107.9,1530.2 1109.6,1526.0 1111.2,1527.8 1112.9,1521.0 1114.5,1524.3 1116.2,1520.5 1121.5,1542.3 1123.3,1535.3 1125.2,1535.4 1127.1,1527.0 1128.9,1523.9 1131.0,1527.5 1133.1,1525.4 1135.2,1528.5 1137.3,1525.6 1139.5,1519.8 1141.6,1523.7 1143.7,1531.1 1145.8,1534.5 1147.7,1524.2 1149.6,1521.7 1151.5,1510.3 1153.4,1507.5 1155.3,1497.9 1157.2,1496.3 1159.0,1502.2 1160.8,1500.1 1162.7,1502.9 1171.2,1540.4 1172.9,1540.5 1174.6,1535.8 1176.2,1538.6 1177.9,1531.6 1179.6,1532.9 1184.9,1502.0 1186.6,1499.4 1188.3,1492.2 1190.0,1491.8 1191.7,1483.6 1193.4,1481.6 1197.6,1520.2 1199.5,1529.7 1201.4,1533.4 1203.3,1543.1 1205.2,1548.1 1207.1,1556.8 1211.3,1530.1 1213.1,1527.9 1214.8,1521.5 1216.6,1521.4 1218.4,1516.0 1220.1,1516.0 1221.9,1510.5 1224.0,1516.7 1226.1,1528.5 1228.2,1533.7 1229.9,1525.1 1231.6,1523.1 1233.3,1512.5 1235.0,1509.0 1236.7,1500.4 1238.8,1501.7 1240.9,1509.2 1243.0,1511.9 1248.3,1557.5 1250.2,1548.3 1252.0,1546.2 1253.8,1536.1 1255.7,1532.3 1257.8,1540.0 1259.9,1539.0 1262.0,1546.3 1264.2,1544.0 1266.3,1538.5 1270.5,1559.8 1272.6,1560.4 1274.7,1563.3" fill="none" stroke="#ff0000" stroke-width="6.8" stroke-linejoin="round" stroke-linecap="round"/>
<polyline points="271.8,2430.8 273.0,2399.4 274.6,2402.0 276.2,2407.1 277.8,2409.0 281.4,2387.3 286.3,2411.5 292.3,2364.4 294.1,2367.4 295.9,2372.8 302.0,2330.6 303.6,2329.9 305.2,2326.9 306.8,2327.2 308.4,2323.9 310.0,2324.7 311.6,2322.1 313.4,2325.2 315.2,2329.8 317.1,2331.7 318.9,2336.6 320.7,2342.0 322.5,2344.5 324.3,2350.6 326.1,2354.7 327.7,2349.8 329.4,2347.8 331.0,2342.6 332.5,2300.4 334.0,2380.0 335.5,2300.0 337.0,2385.0 338.5,2300.0 340.0,2385.0 341.5,2300.0 343.0,2380.0 344.5,2300.4 346.0,2390.0 346.6,2409.0 350.3,2428.4 351.9,2426.2 353.5,2426.5 355.1,2423.6 360.5,2377.7 363.6,2385.0 366.0,2427.2 368.0,2425.1 370.0,2426.0 372.0,2424.8 374.0,2419.1 376.0,2415.2 378.0,2409.0 380.5,2324.5 382.9,2287.1 384.5,2390.0 386.0,2290.0 387.5,2395.0 388.9,2294.3 390.5,2390.0 392.5,2324.5 393.7,2397.0 395.3,2399.7 397.0,2405.8 398.6,2409.0 400.4,2402.4 402.2,2397.8 404.0,2391.0 404.8,2390.8 406.4,2394.4 408.1,2399.5 409.7,2402.9 411.5,2397.4 413.3,2394.5 415.1,2388.4 416.9,2385.0 418.7,2379.1 420.5,2375.1 422.4,2382.6 424.2,2388.4 425.8,2385.5 427.4,2384.4 429.0,2380.5 430.6,2380.5 432.2,2376.3 433.8,2375.1 436.2,2332.8 439.5,2280.0 441.1,2272.5 442.3,2338.9 447.1,2363.0 448.8,2360.7 450.5,2355.8 452.1,2355.6 453.8,2350.9 455.5,2348.5 457.1,2351.3 458.8,2351.4 460.4,2354.6 462.4,2348.9 464.4,2339.5 466.4,2334.0 468.0,2340.5 469.6,2344.1 471.2,2351.0 473.2,2344.0 475.3,2334.1 477.3,2326.8 478.9,2324.2 480.5,2318.2 482.1,2315.9 484.1,2320.4 486.2,2321.5 488.2,2325.6 494.2,2291.8 495.4,2224.2 497.5,2200.0 499.0,1950.0 502.5,1800.0 503.3,1778.5 504.2,1800.0 507.0,1950.0 508.3,1975.0 509.0,2200.0 508.7,2306.3 512.0,2290.0 514.0,2283.4 515.9,2274.9 518.3,2218.1 521.3,2051.3 526.7,1988.3 531.0,2050.0 532.2,2064.3 534.3,2194.8 535.3,2262.8 538.9,2290.6 543.7,2267.6 548.5,2291.8 552.8,2260.4 553.4,2308.7 556.0,2280.0 558.4,2283.5 560.8,2288.0 562.4,2289.4 564.0,2288.3 565.6,2291.1 567.2,2290.4 568.8,2292.7 570.4,2291.3 572.0,2293.2 573.7,2292.6 575.4,2289.1 577.1,2289.0 578.8,2285.6 580.4,2286.0 582.1,2282.2 583.8,2282.3 585.5,2278.9 587.2,2278.1 588.9,2275.6 590.6,2271.8 592.2,2270.4 593.9,2265.0 595.6,2264.4 597.3,2259.7 598.9,2258.2 600.6,2253.7 602.3,2251.7 603.9,2256.9 605.5,2258.1 607.1,2264.0 608.8,2265.5 610.4,2271.2 612.0,2273.4 613.6,2278.1 615.2,2281.1 616.8,2280.3 618.4,2283.8 620.1,2283.9 621.7,2287.1 623.3,2286.4 624.9,2289.4 626.5,2292.5 628.1,2293.6 629.7,2298.7 631.4,2298.9 633.0,2304.0 634.6,2304.4 636.2,2308.3 637.9,2309.6 639.6,2308.0 641.4,2310.2 643.1,2309.2 644.8,2311.3 646.5,2309.4 648.2,2311.3 649.9,2310.1 651.7,2312.3 653.4,2311.0 655.1,2312.1 656.8,2313.2 658.5,2311.8 660.3,2314.1 662.0,2312.4 663.7,2314.7 665.4,2313.7 667.1,2315.1 668.8,2314.2 670.6,2316.1 672.3,2314.2 674.0,2315.8 675.7,2317.5 677.4,2315.6 679.1,2318.6 680.8,2317.2 682.5,2319.6 684.3,2317.8 686.0,2319.9 687.7,2319.5 689.4,2320.9 691.1,2319.8 692.8,2321.5 694.5,2322.3 696.2,2321.3 698.0,2323.1 699.7,2321.4 701.4,2322.9 703.1,2322.0 704.8,2323.6 706.5,2322.3 708.3,2323.7 710.0,2322.1 711.7,2323.4 713.4,2324.2 715.1,2322.5 716.9,2324.0 718.6,2322.6 720.3,2323.7 722.0,2322.0 723.8,2323.3 725.5,2322.1 727.2,2322.5 728.9,2324.1 730.6,2322.1 732.3,2323.9 734.0,2322.6 735.7,2325.1 737.4,2323.7 739.1,2324.9 740.8,2324.7 742.5,2324.6 744.2,2326.7 745.9,2325.4 747.5,2327.5 749.2,2325.7 750.9,2328.2 752.6,2327.0 754.3,2328.1 755.9,2330.3 757.6,2328.5 759.2,2331.5 760.8,2330.7 762.4,2333.2 764.1,2332.2 765.7,2333.8 767.5,2333.4 769.3,2330.3 771.1,2330.8 772.9,2327.9 774.7,2327.0 776.4,2322.0 778.1,2314.3 779.8,2311.3 781.5,2304.3 786.0,2324.7 790.6,2358.7 792.9,2358.0 795.1,2358.7 798.5,2313.4 801.9,2336.0 803.5,2337.6 805.1,2335.9 806.7,2338.3 808.4,2336.2 810.0,2338.5 811.6,2337.3 813.2,2338.3 814.8,2338.9 816.4,2337.3 818.0,2339.2 819.7,2337.7 821.3,2340.4 822.9,2338.3 824.5,2339.4 826.1,2340.5 827.7,2339.1 829.3,2342.2 831.0,2340.2 832.6,2342.7 834.2,2341.5 835.8,2342.8 837.4,2343.6 839.1,2342.2 840.7,2343.9 842.3,2342.0 843.9,2343.4 845.6,2342.3 847.2,2342.8 848.8,2344.2 850.4,2342.7 852.0,2344.7 853.7,2343.4 855.3,2345.7 856.9,2343.5 858.5,2345.1 860.1,2345.7 861.7,2344.8 863.3,2346.3 865.0,2344.3 866.6,2347.1 868.2,2345.3 869.8,2346.2 871.4,2347.3 873.0,2346.1 874.6,2348.9 876.3,2346.8 877.9,2349.4 879.5,2347.8 881.1,2349.6 882.7,2350.4 884.4,2348.1 886.0,2350.0 887.6,2347.7 889.2,2349.2 890.9,2347.2 892.5,2347.4 894.1,2347.7 895.7,2345.4 897.3,2347.0 899.0,2344.9 900.6,2346.8 902.2,2344.2 903.8,2345.1 905.9,2348.1 907.9,2348.8 910.0,2351.8 912.0,2350.6 914.0,2346.7 916.0,2346.0 918.0,2345.7 920.1,2342.4 922.1,2342.1 923.7,2339.8 925.4,2335.3 927.0,2332.5 930.6,2308.3 931.8,2270.0 932.5,2200.0 934.0,2300.0 935.5,2180.0 936.9,2174.5 938.0,2250.0 939.5,2300.0 941.4,2362.0 943.0,2300.0 944.0,2190.0 945.6,2181.5 947.0,2240.0 948.5,2200.0 950.0,2232.0 951.5,2172.8 952.0,2229.3 953.0,2175.0 954.0,2160.0 954.5,2100.0 955.5,2150.0 956.5,2005.0 957.5,2150.0 958.5,2003.0 959.5,1985.0 961.4,1972.7 962.0,2003.0 962.5,2160.0 963.5,2005.0 964.5,2160.0 965.5,2005.0 966.5,2230.0 967.5,2005.0 968.5,2150.0 969.5,2000.0 970.7,1962.2 971.8,2000.0 972.5,2150.0 973.5,2005.0 974.5,2150.0 975.5,2030.0 976.5,2150.0 977.5,2080.0 977.0,2199.0 974.5,2150.0 972.5,2199.0 970.0,2150.0 969.5,2199.0 975.0,2230.0 978.7,2290.0 979.5,2333.0 981.3,2362.6 983.5,2368.9 985.7,2372.0 987.5,2374.0 989.2,2378.7" fill="none" stroke="#008000" stroke-width="5.9" stroke-linejoin="round" stroke-linecap="round"/><polyline points="989.2,2378.7 991.0,2380.8 992.7,2380.1 994.4,2383.3 996.1,2379.2 997.9,2383.5 999.6,2380.2 1001.3,2383.4 1003.0,2381.8 1004.7,2379.0 1006.5,2381.5 1008.2,2377.7 1009.9,2379.7 1011.6,2376.9 1013.4,2378.1 1015.1,2373.9 1016.8,2377.0 1018.6,2372.2 1020.3,2373.7 1022.0,2375.6 1023.8,2373.4 1025.5,2377.1 1027.2,2373.4 1028.9,2376.7 1030.7,2374.6 1032.4,2377.8 1034.1,2376.5 1035.9,2380.0 1037.6,2378.3 1039.2,2378.3 1040.9,2381.1 1042.5,2378.4 1044.2,2383.0 1045.8,2381.5 1047.5,2384.3 1049.1,2384.1 1050.7,2383.8 1052.4,2387.7 1054.0,2385.7 1055.7,2389.7 1057.3,2386.9 1059.0,2391.4 1060.6,2389.9 1062.2,2387.3 1063.9,2390.4 1065.5,2387.7 1067.2,2390.1 1068.8,2387.3 1070.5,2389.7 1072.1,2387.5 1073.8,2388.1 1075.5,2391.1 1077.3,2389.3 1079.0,2393.1 1080.7,2393.3 1082.5,2389.4 1084.2,2391.7 1085.9,2389.2 1087.7,2389.3 1089.6,2392.8 1091.4,2391.1 1093.3,2397.1 1095.1,2396.1 1096.9,2392.5 1098.8,2394.6 1100.6,2391.3 1102.5,2393.0 1104.3,2390.0 1106.0,2388.5 1107.8,2393.3 1109.5,2390.7 1111.2,2395.2 1112.9,2393.1 1114.6,2396.7 1116.4,2394.7 1118.1,2396.8 1119.7,2398.3 1121.4,2396.6 1123.0,2399.0 1124.7,2395.7 1126.3,2399.9 1128.0,2397.0 1129.6,2399.1 1131.2,2401.6 1132.9,2398.1 1134.5,2402.4 1136.2,2400.5 1137.8,2403.7 1139.5,2401.8 1141.1,2403.7 1142.8,2402.8 1144.4,2395.3 1146.1,2395.7 1147.7,2390.1 1149.4,2390.0 1151.0,2383.6 1152.7,2382.2 1157.3,2401.7 1159.0,2400.4 1160.8,2394.6 1162.5,2393.5 1164.2,2389.7 1166.0,2389.5 1167.9,2392.3 1169.7,2390.6 1171.6,2393.9 1173.4,2393.9 1175.7,2402.0 1178.0,2411.8 1179.8,2412.0 1181.7,2407.5 1183.5,2409.3 1185.4,2404.2 1187.2,2404.2 1188.9,2408.7 1190.7,2407.8 1192.4,2412.7 1194.1,2413.4 1195.9,2407.5 1197.8,2406.5 1199.6,2399.4 1201.5,2398.9 1203.3,2394.0 1205.6,2396.8 1207.9,2403.7 1209.5,2409.0 1211.2,2407.5 1212.8,2413.7 1214.5,2414.5 1216.1,2419.9 1217.8,2418.9 1219.4,2424.1 1221.2,2422.7 1223.1,2416.6 1224.9,2417.1 1226.8,2411.3 1228.6,2410.9 1230.3,2410.3 1232.0,2407.0 1233.8,2409.1 1235.5,2403.5 1237.2,2406.4 1239.0,2400.7 1240.7,2403.5 1242.4,2400.2 1244.0,2399.6 1245.7,2403.7 1247.3,2402.5 1249.0,2406.2 1250.6,2404.5 1252.3,2409.5 1253.9,2408.9 1255.7,2411.5 1257.4,2417.1 1259.2,2417.7 1260.9,2423.7 1262.7,2424.5 1264.5,2419.5 1266.4,2421.5 1268.2,2416.5 1270.0,2417.3 1271.9,2420.4 1273.7,2419.1 1275.6,2423.3 1277.4,2422.4 1279.3,2425.1" fill="none" stroke="#008000" stroke-width="6.8" stroke-linejoin="round" stroke-linecap="round"/>
<g transform="matrix(0.9931 0 0 1.0077 0.92 -2.25)"><text x="276" y="123.4" font-family='"Liberation Serif", serif' font-size="60" font-weight="normal" fill="#111">PPM</text></g>
<g transform="matrix(1.0333 0 0 0.9622 -40.37 3.37)"><text x="1199" y="133.4" font-family='"Liberation Serif", serif' font-size="76" font-weight="normal" fill="#111">a</text></g>
<g transform="matrix(1.0680 0 0 1.0875 -51.69 -16.02)"><text x="752" y="151.7" font-family='"Liberation Serif", serif' font-size="64" font-weight="normal" fill="#111">-CH<tspan font-size="40" dy="22">2</tspan><tspan dy="-22">-</tspan></text></g>
<g transform="matrix(1.0126 0 0 1.0656 -12.15 -20.70)"><text x="970" y="300.5" font-family='"Liberation Serif", serif' font-size="64" font-weight="normal" fill="#111">-CH<tspan font-size="40" dy="22">3</tspan></text></g>
<g transform="matrix(1.0529 0 0 1.0391 -21.86 -15.73)"><text x="357" y="373" font-family='"Liberation Serif", serif' font-size="63" font-weight="normal" fill="#111">CH<tspan font-size="40" dy="22">2</tspan></text></g>
<g transform="matrix(1.0490 0 0 1.0312 -26.48 -15.53)"><text x="523" y="426.8" font-family='"Liberation Serif", serif' font-size="63" font-weight="normal" fill="#111">CH<tspan font-size="40" dy="22">2</tspan></text></g>
<g transform="matrix(1.0243 0 0 0.9935 -6.85 3.55)"><text x="248" y="612" font-family='"Liberation Serif", serif' font-size="43" fill="#111" stroke="#111" stroke-width="1.0">Helix chains</text></g>
<g transform="matrix(0.9692 0 0 1.0025 8.81 -4.76)"><text x="274.5" y="942.5" font-family='"Liberation Serif", serif' font-size="60" font-weight="normal" fill="#111">PPM5</text></g>
<g transform="matrix(1.0286 0 0 1.0130 -34.76 -13.21)"><text x="1192" y="941.3" font-family='"Liberation Serif", serif' font-size="76" font-weight="normal" fill="#111">b</text></g>
<g transform="matrix(1.0476 0 0 1.0500 -35.32 -54.95)"><text x="767" y="1045.2" font-family='"Liberation Serif", serif' font-size="64" font-weight="normal" fill="#111">-CH<tspan font-size="40" dy="22">2</tspan><tspan dy="-22">-</tspan></text></g>
<g transform="matrix(1.0031 0 0 1.0297 -1.61 -33.83)"><text x="986" y="1130.8" font-family='"Liberation Serif", serif' font-size="64" font-weight="normal" fill="#111">-CH<tspan font-size="40" dy="22">3</tspan></text></g>
<g transform="matrix(1.0529 0 0 1.0312 -21.86 -37.59)"><text x="357" y="1180.9" font-family='"Liberation Serif", serif' font-size="63" font-weight="normal" fill="#111">CH<tspan font-size="40" dy="22">2</tspan></text></g>
<g transform="matrix(1.0490 0 0 1.0359 -26.48 -47.44)"><text x="523" y="1259.4" font-family='"Liberation Serif", serif' font-size="63" font-weight="normal" fill="#111">CH<tspan font-size="40" dy="22">2</tspan></text></g>
<g transform="matrix(1.0256 0 0 0.9839 -5.82 21.26)"><text x="246.5" y="1348" font-family='"Liberation Serif", serif' font-size="43" fill="#111" stroke="#111" stroke-width="1.0">Helix chains</text></g>
<g transform="matrix(1.0299 0 0 1.0513 -18.04 -75.44)"><text x="628" y="1469.7" font-family='"Liberation Serif", serif' font-size="57" font-weight="normal" fill="#111">C=O</text></g>
<g transform="matrix(1.0091 0 0 1.0516 -4.85 -78.89)"><text x="640" y="1513.1" font-family='"Liberation Serif", serif' font-size="47" font-weight="normal" fill="#111">1720</text></g>
<g transform="matrix(1.0107 0 0 0.9649 -3.24 62.21)"><text x="271" y="1764.2" font-family='"Liberation Serif", serif' font-size="76" font-weight="normal" fill="#111">c</text></g>
<g transform="matrix(1.0539 0 0 1.0312 -20.86 -59.09)"><text x="356" y="1837.1" font-family='"Liberation Serif", serif' font-size="63" font-weight="normal" fill="#111">CH<tspan font-size="40" dy="22">2</tspan></text></g>
<g transform="matrix(1.0235 0 0 1.0172 -23.65 -32.89)"><text x="941" y="1788.5" font-family='"Liberation Serif", serif' font-size="57" font-weight="normal" fill="#111">PPM5/TiO<tspan font-size="40" dy="20">2</tspan></text></g>
<g transform="matrix(1.0592 0 0 1.0484 -46.56 -99.21)"><text x="783" y="2022" font-family='"Liberation Serif", serif' font-size="64" font-weight="normal" fill="#111">-CH<tspan font-size="40" dy="22">2</tspan><tspan dy="-22">-</tspan></text></g>
<g transform="matrix(0.9945 0 0 1.0281 5.97 -57.40)"><text x="990" y="2082.8" font-family='"Liberation Serif", serif' font-size="64" font-weight="normal" fill="#111">-CH<tspan font-size="40" dy="22">3</tspan></text></g>
<g transform="matrix(1.0353 0 0 1.0016 -20.69 -4.64)"><text x="555" y="2049.8" font-family='"Liberation Serif", serif' font-size="63" font-weight="normal" fill="#111">CH<tspan font-size="40" dy="22">2</tspan></text></g>
<g transform="matrix(1.0209 0 0 1.0000 -3.67 0.20)"><text x="246.5" y="2212.1" font-family='"Liberation Serif", serif' font-size="43" fill="#111" stroke="#111" stroke-width="1.0">Helix chains</text></g>
<g transform="matrix(1.0612 0 0 1.1216 -36.23 -271.45)"><text x="587" y="2234.7" font-family='"Liberation Serif", serif' font-size="55" font-weight="normal" fill="#111">C=O</text></g>
<g transform="matrix(1.0417 0 0 1.1483 -26.51 -336.38)"><text x="625" y="2274.3" font-family='"Liberation Serif", serif' font-size="45" font-weight="normal" fill="#111">1720</text></g>
<g transform="matrix(1.0624 0 0 1.0540 -37.59 -135.98)"><text x="594" y="2572.4" font-family='"Liberation Serif", serif' font-size="55" font-weight="normal" fill="#111">Wavenumber (cm<tspan font-size="33" dy="-13">-1</tspan><tspan dy="13">)</tspan></text></g>
<g transform="matrix(0.9822 0 0 1.0025 2.35 -1.44)"><text transform="translate(65.5,571.3) rotate(-90)" x="0" y="0" font-family='"Liberation Serif", serif' font-size="49" fill="#111">Absorbance (%)</text></g>
<g transform="matrix(0.9711 0 0 0.9943 0.83 7.87)"><text transform="translate(80.5,1315.7) rotate(-90)" x="0" y="0" font-family='"Liberation Serif", serif' font-size="49" fill="#111">Absorbance (%)</text></g>
<g transform="matrix(0.9711 0 0 0.9874 0.83 28.14)"><text transform="translate(80.5,2237.2) rotate(-90)" x="0" y="0" font-family='"Liberation Serif", serif' font-size="49" fill="#111">Absorbance (%)</text></g>
</svg>
</body></html>
